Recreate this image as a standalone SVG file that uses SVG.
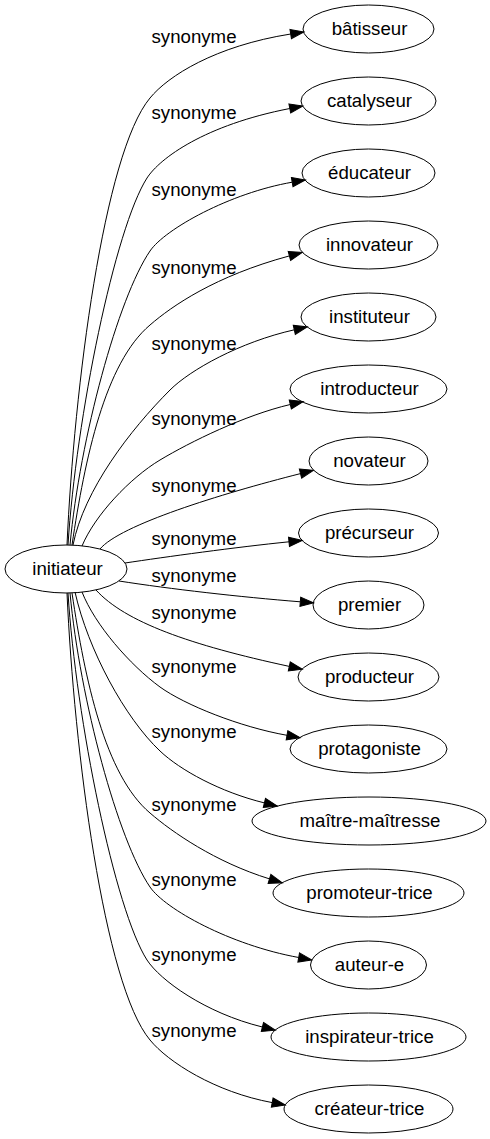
<svg xmlns="http://www.w3.org/2000/svg" width="490" height="1139" viewBox="0 0 490 1139">
<style>
.node ellipse{fill:none;stroke:#000;stroke-width:1}
text{font-family:"Liberation Sans",Arial,Helvetica,sans-serif;font-size:18.67px;fill:#000;text-anchor:middle}
.edge path{fill:none;stroke:#000;stroke-width:1;marker-end:url(#ah)}
</style>
<defs>
<marker id="ah" markerUnits="userSpaceOnUse" markerWidth="14" markerHeight="10" refX="0" refY="4.67" orient="auto" overflow="visible">
<path d="M0,0 L13.3,4.67 L0,9.33 Z" fill="#000" stroke="#000" stroke-width="1"/>
</marker>
</defs>
<rect width="490" height="1139" fill="#fff"/>
<g id="edges" class="edge">
<g id="e1"><path d="M67,545 C74,388 104,153 150,98 C168,76 215,46 290.7,34"/><text x="194" y="43">synonyme</text></g>
<g id="e2"><path d="M68,545 C76,418 115,228 147,178 C160,158 205,125 289.8,108.5"/><text x="194" y="119">synonyme</text></g>
<g id="e3"><path d="M70,545 C80,438 118,298 150,251 C165,229 230,193 292.2,182.2"/><text x="194" y="196">synonyme</text></g>
<g id="e4"><path d="M72,545 C85,458 105,363 150,325 C172,306 215,276 289.4,255.9"/><text x="194" y="274">synonyme</text></g>
<g id="e5"><path d="M73,545 C84,490 130,430 170,390 C190,370 240,342 294.3,329.8"/><text x="194" y="350">synonyme</text></g>
<g id="e6"><path d="M82,546 C95,515 130,478 160,460 C190,442 245,415 290.3,404.5"/><text x="194" y="425">synonyme</text></g>
<g id="e7"><path d="M100,549 C120,525 220,494 300.5,473.6"/><text x="194" y="492">synonyme</text></g>
<g id="e8"><path d="M125,563 C165,557 237,547 289,541.8"/><text x="194" y="545">synonyme</text></g>
<g id="e9"><path d="M119,581 C170,589 240,597 300.3,601.8"/><text x="194" y="582">synonyme</text></g>
<g id="e10"><path d="M96,590 C125,622 190,645 289.3,666.4"/><text x="194" y="619">synonyme</text></g>
<g id="e11"><path d="M82,592 C95,625 130,665 160,687 C185,705 240,727 287,735.3"/><text x="194" y="673">synonyme</text></g>
<g id="e12"><path d="M75,592 C88,650 125,718 160,751 C180,770 220,792 264.4,802.9"/><text x="194" y="738">synonyme</text></g>
<g id="e13"><path d="M72,593 C85,680 105,775 150,813 C172,832 215,862 269.5,878.9"/><text x="194" y="811">synonyme</text></g>
<g id="e14"><path d="M70,593 C80,700 118,840 150,887 C165,909 230,945 298.7,957.5"/><text x="194" y="886">synonyme</text></g>
<g id="e15"><path d="M68,593 C76,720 115,910 147,960 C160,980 205,1013 262.4,1027"/><text x="194" y="961">synonyme</text></g>
<g id="e16"><path d="M67,593 C74,750 104,985 150,1040 C168,1062 215,1092 272.2,1102.6"/><text x="194" y="1037">synonyme</text></g>
</g>
<g id="initiateur" class="node"><ellipse cx="66" cy="569" rx="61" ry="24"/><text x="67.5" y="575">initiateur</text></g>
<g id="batisseur" class="node"><ellipse cx="368.5" cy="29" rx="65.5" ry="24"/><text x="369.5" y="35">bâtisseur</text></g>
<g id="catalyseur" class="node"><ellipse cx="368.5" cy="101" rx="67.5" ry="24"/><text x="369.5" y="107">catalyseur</text></g>
<g id="educateur" class="node"><ellipse cx="368.5" cy="173" rx="66.5" ry="24"/><text x="369.5" y="179">éducateur</text></g>
<g id="innovateur" class="node"><ellipse cx="368.5" cy="245" rx="69.5" ry="24"/><text x="369.5" y="251">innovateur</text></g>
<g id="instituteur" class="node"><ellipse cx="368.5" cy="317" rx="67.5" ry="24"/><text x="369.5" y="323">instituteur</text></g>
<g id="introducteur" class="node"><ellipse cx="368.5" cy="389" rx="78.5" ry="24"/><text x="369.5" y="395">introducteur</text></g>
<g id="novateur" class="node"><ellipse cx="368.5" cy="461" rx="59.5" ry="24"/><text x="369.5" y="467">novateur</text></g>
<g id="precurseur" class="node"><ellipse cx="368.5" cy="533" rx="70" ry="24"/><text x="369.5" y="539">précurseur</text></g>
<g id="premier" class="node"><ellipse cx="368.5" cy="605" rx="55.5" ry="24"/><text x="369.5" y="611">premier</text></g>
<g id="producteur" class="node"><ellipse cx="368.5" cy="677" rx="70.5" ry="24"/><text x="369.5" y="683">producteur</text></g>
<g id="protagoniste" class="node"><ellipse cx="368.5" cy="749" rx="78.5" ry="24"/><text x="369.5" y="755">protagoniste</text></g>
<g id="maitre-maitresse" class="node"><ellipse cx="369" cy="821" rx="117" ry="24"/><text x="370" y="827">maître-maîtresse</text></g>
<g id="promoteur-trice" class="node"><ellipse cx="368.5" cy="893" rx="95.5" ry="24"/><text x="369.5" y="899">promoteur-trice</text></g>
<g id="auteur-e" class="node"><ellipse cx="368.5" cy="965" rx="58" ry="24"/><text x="369.5" y="971">auteur-e</text></g>
<g id="inspirateur-trice" class="node"><ellipse cx="368.5" cy="1037" rx="97.5" ry="24"/><text x="369.5" y="1043">inspirateur-trice</text></g>
<g id="createur-trice" class="node"><ellipse cx="368.5" cy="1109" rx="84.5" ry="24"/><text x="369.5" y="1115">créateur-trice</text></g>
</svg>
